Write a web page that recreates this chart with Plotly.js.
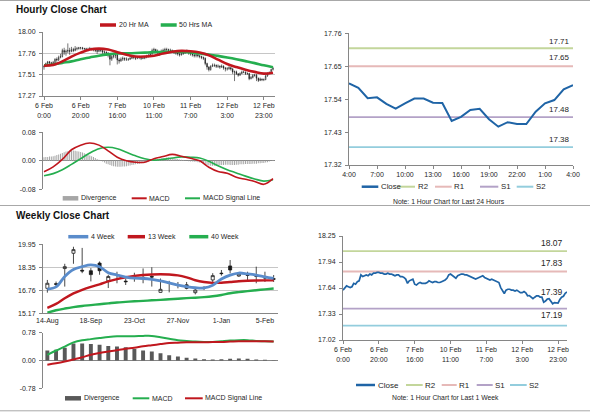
<!DOCTYPE html>
<html><head><meta charset="utf-8">
<script src="https://cdn.plot.ly/plotly-3.0.1.min.js"></script>
<style>html,body{margin:0;padding:0;background:#fff;}#chart{width:600px;height:413px;}</style>
</head><body><div id="chart"></div>
<script>
// ---------------- DATA ----------------
// Hourly (6 Feb 0:00 .. 13 Feb 4:00, 126 trading hours)
const hourTickLabels = ['6 Feb<br>0:00','6 Feb<br>20:00','7 Feb<br>16:00','10 Feb<br>11:00','11 Feb<br>7:00','12 Feb<br>3:00','12 Feb<br>23:00'];
const hourFirstOpen = 17.60;
const hourClose = [17.61,17.64,17.66,17.65,17.64,17.65,17.69,17.68,17.71,17.72,
17.79,17.77,17.78,17.79,17.78,17.80,17.79,17.81,17.81,17.82,
17.82,17.81,17.81,17.80,17.80,17.81,17.80,17.80,17.79,17.78,
17.79,17.79,17.77,17.77,17.76,17.74,17.69,17.72,17.73,17.74,
17.68,17.67,17.69,17.70,17.69,17.69,17.69,17.70,17.72,17.71,
17.70,17.71,17.71,17.70,17.70,17.71,17.72,17.73,17.75,17.79,
17.80,17.78,17.77,17.75,17.78,17.79,17.80,17.80,17.79,17.79,
17.78,17.77,17.76,17.75,17.74,17.75,17.76,17.77,17.78,17.76,
17.75,17.74,17.73,17.74,17.73,17.72,17.71,17.70,17.64,17.60,
17.57,17.61,17.62,17.62,17.61,17.61,17.60,17.61,17.59,17.58,
17.58,17.593,17.578,17.543,17.546,17.524,17.508,17.526,17.542,17.542,
17.528,17.527,17.467,17.481,17.504,17.508,17.473,17.448,17.463,17.457,
17.457,17.498,17.526,17.537,17.573,17.587];
const hourHigh = [17.62,17.65,17.67,17.67,17.66,17.67,17.70,17.71,17.73,17.75,
17.81,17.82,17.80,17.87,17.82,17.83,17.82,17.84,17.83,17.83,
17.83,17.83,17.82,17.82,17.82,17.83,17.82,17.81,17.81,17.80,
17.81,17.80,17.80,17.79,17.78,17.77,17.75,17.74,17.75,17.76,
17.75,17.70,17.71,17.72,17.71,17.71,17.70,17.72,17.73,17.73,
17.72,17.72,17.73,17.72,17.72,17.72,17.74,17.75,17.77,17.81,
17.82,17.81,17.80,17.78,17.80,17.81,17.82,17.82,17.81,17.81,
17.80,17.79,17.78,17.77,17.76,17.77,17.78,17.79,17.80,17.79,
17.77,17.76,17.75,17.75,17.75,17.74,17.73,17.72,17.71,17.65,
17.61,17.62,17.64,17.64,17.63,17.63,17.62,17.63,17.62,17.60,
17.60,17.61,17.60,17.59,17.56,17.56,17.53,17.54,17.56,17.56,
17.55,17.54,17.53,17.50,17.52,17.52,17.52,17.48,17.48,17.47,
17.47,17.51,17.54,17.55,17.58,17.60];
const hourLow = [17.57,17.60,17.62,17.63,17.62,17.63,17.64,17.66,17.67,17.70,
17.71,17.74,17.73,17.76,17.74,17.77,17.77,17.78,17.79,17.80,
17.80,17.80,17.79,17.79,17.78,17.79,17.79,17.78,17.77,17.75,
17.77,17.77,17.75,17.75,17.73,17.71,17.62,17.67,17.70,17.70,
17.63,17.64,17.66,17.67,17.67,17.67,17.67,17.68,17.69,17.69,
17.68,17.69,17.69,17.68,17.69,17.69,17.70,17.71,17.72,17.74,
17.78,17.77,17.75,17.73,17.74,17.77,17.78,17.78,17.77,17.77,
17.76,17.75,17.74,17.73,17.72,17.73,17.74,17.75,17.76,17.74,
17.73,17.72,17.71,17.71,17.71,17.70,17.69,17.68,17.62,17.57,
17.55,17.56,17.60,17.60,17.59,17.59,17.58,17.59,17.57,17.55,
17.56,17.57,17.56,17.52,17.44,17.51,17.49,17.50,17.52,17.53,
17.51,17.51,17.45,17.46,17.47,17.49,17.44,17.43,17.44,17.44,
17.44,17.45,17.49,17.52,17.53,17.56];
// moving averages and MACD read every 5 hours
const hourStep = 5;
const ma20 = [17.615,17.625,17.665,17.72,17.765,17.80,17.81,17.80,17.77,17.74,17.72,17.72,17.73,17.755,17.775,17.785,17.78,17.765,17.735,17.685,17.635,17.60,17.57,17.545,17.525,17.535];
const ma50 = [17.62,17.63,17.648,17.665,17.69,17.71,17.73,17.745,17.755,17.757,17.76,17.765,17.77,17.772,17.775,17.772,17.767,17.755,17.742,17.728,17.71,17.69,17.668,17.645,17.62,17.598];
const hourMacd = [-0.031,-0.017,0.004,0.031,0.044,0.050,0.044,0.028,0.010,0.000,-0.004,-0.004,0.006,0.012,0.018,0.013,0.007,0.000,-0.018,-0.030,-0.035,-0.046,-0.052,-0.058,-0.066,-0.050];
const hourSignal = [-0.042,-0.036,-0.025,-0.010,0.006,0.022,0.034,0.038,0.034,0.024,0.014,0.006,0.002,0.004,0.008,0.011,0.010,0.008,-0.001,-0.014,-0.025,-0.034,-0.043,-0.051,-0.057,-0.053];
const hourDivergence = [0.010,0.011,0.011,0.012,0.012,0.013,0.014,0.016,0.018,0.020,
0.022,0.024,0.026,0.027,0.028,0.029,0.029,0.028,0.027,0.026,
0.025,0.023,0.021,0.019,0.017,0.015,0.013,0.011,0.008,0.005,
0.003,0.001,-0.002,-0.005,-0.008,-0.010,-0.012,-0.014,-0.015,-0.016,
-0.017,-0.017,-0.017,-0.016,-0.016,-0.015,-0.014,-0.013,-0.012,-0.011,
-0.010,-0.009,-0.008,-0.007,-0.006,-0.005,-0.004,-0.002,0.000,0.002,
0.003,0.004,0.005,0.006,0.007,0.008,0.008,0.009,0.009,0.008,
0.008,0.007,0.006,0.005,0.004,0.003,0.002,0.001,0.000,-0.001,
-0.002,-0.002,-0.003,-0.003,-0.004,-0.005,-0.006,-0.008,-0.010,-0.012,
-0.013,-0.014,-0.014,-0.014,-0.013,-0.013,-0.012,-0.012,-0.012,-0.011,
-0.011,-0.011,-0.012,-0.012,-0.012,-0.011,-0.011,-0.010,-0.010,-0.010,
-0.009,-0.009,-0.009,-0.009,-0.008,-0.008,-0.008,-0.007,-0.007,-0.006,
-0.006,-0.005,-0.004,-0.002,0.000,0.002];
// last 24 hours
const dayTickLabels = ['4:00','7:00','10:00','13:00','16:00','19:00','22:00','1:00','4:00'];
const pivotNames = ['R2','R1','S1','S2'];
const dayPivots = [17.71,17.65,17.48,17.38];
const weekPivots = [18.07,17.83,17.39,17.19];
// Weekly (14-Aug .. 12-Feb, 27 weeks)
const weekTickLabels = ['14-Aug','18-Sep','23-Oct','27-Nov','1-Jan','5-Feb'];
const weekOpen  = [16.90,17.22,18.27,19.33,18.15,18.12,18.65,17.42,17.84,17.40,17.72,17.66,17.72,16.62,17.30,17.14,17.14,16.60,16.95,17.48,17.95,18.45,17.75,17.84,17.78,17.66,17.57];
const weekHigh  = [17.48,17.37,18.60,19.78,19.70,18.30,18.76,17.84,18.05,17.56,17.98,18.28,18.36,17.58,17.42,17.34,17.34,16.90,17.05,17.95,18.17,18.86,18.00,18.05,18.40,18.05,17.82];
const weekLow   = [16.60,17.00,17.02,18.60,17.95,17.38,17.84,16.92,17.25,17.13,17.36,17.25,17.02,16.60,16.62,16.90,16.83,16.48,16.78,17.28,17.78,17.94,17.70,17.48,17.25,17.34,17.34];
const weekClose = [17.25,17.18,18.40,19.58,18.10,17.85,18.12,17.72,17.80,17.36,17.68,17.62,17.68,16.83,17.26,17.10,16.90,16.78,16.92,17.78,17.92,18.17,17.89,17.80,17.74,17.62,17.53];
const ma4w  = [16.85,17.00,17.72,18.20,18.40,18.52,18.40,17.98,17.82,17.68,17.60,17.58,17.52,17.42,17.28,17.12,17.01,16.94,16.93,17.12,17.55,17.82,17.96,17.90,17.82,17.70,17.59];
const ma13w = [15.55,15.82,16.21,16.55,16.80,17.00,17.17,17.38,17.54,17.67,17.76,17.82,17.86,17.88,17.86,17.80,17.66,17.46,17.34,17.28,17.29,17.34,17.39,17.42,17.44,17.45,17.45];
const ma40w = [15.22,15.38,15.50,15.60,15.68,15.74,15.80,15.86,15.92,15.96,16.00,16.03,16.07,16.10,16.14,16.18,16.22,16.25,16.29,16.35,16.44,16.56,16.64,16.71,16.77,16.83,16.89];
const weekMacd   = [0.16,0.28,0.39,0.51,0.57,0.60,0.63,0.66,0.68,0.68,0.68,0.69,0.69,0.65,0.61,0.57,0.55,0.53,0.52,0.52,0.54,0.56,0.57,0.57,0.55,0.54,0.53];
const weekSignal = [-0.12,-0.08,-0.03,0.03,0.09,0.16,0.21,0.25,0.29,0.33,0.36,0.40,0.43,0.46,0.49,0.50,0.51,0.51,0.51,0.52,0.52,0.53,0.54,0.54,0.54,0.54,0.53];
const weekDivergence = [0.28,0.30,0.36,0.48,0.48,0.46,0.44,0.41,0.39,0.37,0.32,0.28,0.25,0.20,0.15,0.11,0.08,0.056,0.037,0.028,0.037,0.046,0.056,0.046,0.028,0.019,-0.01];

// ---------------- STYLE ----------------
const W = 600, H = 413;
const px = x => x / W, py = y => 1 - y / H;
const C = {close:'#1f64a6', piv:['#c3d69b','#e6b9b8','#b3a2c7','#93cddd'], red:'#c0171e', green:'#25ae4f',
  blue:'#5a8ccb', divLight:'#a6a6a6', divDark:'#595959', axis:'#868686', grid:'#c6c6c6', text:'#262626'};
const FONT = 'Liberation Sans, Arial, sans-serif';

// ---------------- TRACES ----------------
const hx = hourClose.map((_, i) => i);
const hourOpen = [hourFirstOpen].concat(hourClose.slice(0, -1));
const sx = ma20.map((_, j) => j * hourStep);
const dayClose = hourClose.slice(-25);
const dx = dayClose.map((_, i) => i);
const wx = weekClose.map((_, k) => k);

const candleStyle = w => ({
  increasing:{line:{color:'#1a1a1a', width:w}, fillcolor:'#ffffff'},
  decreasing:{line:{color:'#1a1a1a', width:w}, fillcolor:'#1a1a1a'},
  whiskerwidth:0, hoverinfo:'skip'});
const line = (x, y, color, width, xa, ya, shape) => ({type:'scatter', mode:'lines', x, y, xaxis:xa, yaxis:ya,
  line:{color, width, shape:shape || 'linear', smoothing:1}, hoverinfo:'skip'});

const traces = [];
traces.push(Object.assign({type:'candlestick', x:hx, open:hourOpen, high:hourHigh, low:hourLow, close:hourClose, xaxis:'x', yaxis:'y'}, candleStyle(0.6)));
traces.push(line(sx, ma50, C.green, 2.6, 'x', 'y', 'spline'));
traces.push(line(sx, ma20, C.red, 2.6, 'x', 'y', 'spline'));
traces.push({type:'bar', x:hx, y:hourDivergence, width:0.55, marker:{color:C.divLight}, xaxis:'x2', yaxis:'y2', hoverinfo:'skip'});
traces.push(line(sx, hourSignal, C.green, 1.6, 'x2', 'y2', 'spline'));
traces.push(line(sx, hourMacd, C.red, 1.6, 'x2', 'y2', 'spline'));
dayPivots.forEach((v, j) => traces.push(line([0, dx.length - 1], [v, v], C.piv[j], 1.8, 'x3', 'y3')));
traces.push(line(dx, dayClose, C.close, 2, 'x3', 'y3'));
traces.push(Object.assign({type:'candlestick', x:wx, open:weekOpen, high:weekHigh, low:weekLow, close:weekClose, xaxis:'x4', yaxis:'y4'}, candleStyle(0.8)));
traces.push(line(wx, ma40w, C.green, 2.4, 'x4', 'y4', 'spline'));
traces.push(line(wx, ma13w, C.red, 2.4, 'x4', 'y4', 'spline'));
traces.push(line(wx, ma4w, C.blue, 2.8, 'x4', 'y4', 'spline'));
traces.push({type:'bar', x:wx, y:weekDivergence, width:0.45, marker:{color:C.divDark}, xaxis:'x5', yaxis:'y5', hoverinfo:'skip'});
traces.push(line(wx, weekMacd, C.green, 2, 'x5', 'y5', 'spline'));
traces.push(line(wx, weekSignal, C.red, 2, 'x5', 'y5', 'spline'));
weekPivots.forEach((v, j) => traces.push(line([0, hx.length - 1], [v, v], C.piv[j], 1.8, 'x6', 'y6')));
traces.push(line(hx, hourClose, C.close, 1.7, 'x6', 'y6'));

// ---------------- LAYOUT ----------------
const tf = {family:FONT, size:7, color:C.text};
const baseX = (d, ya) => ({domain:[px(d[0]), px(d[1])], anchor:ya, showgrid:false, zeroline:false, showline:true, linecolor:C.axis,
  linewidth:1, ticks:'outside', ticklen:3, tickcolor:C.axis, tickfont:tf, rangeslider:{visible:false}, fixedrange:true});
const baseY = (d, xa) => ({domain:[py(d[1]), py(d[0])], anchor:xa, showgrid:true, gridcolor:C.grid, gridwidth:1, zeroline:false,
  showline:true, linecolor:C.axis, linewidth:1, ticks:'outside', ticklen:3, tickcolor:C.axis, tickfont:tf, fixedrange:true, ticklabelstandoff:2});

const hourTickVals = hourTickLabels.map((_, j) => j * 20);
const layout = {
  width:W, height:H, margin:{l:0, r:0, t:0, b:0}, paper_bgcolor:'#fff', plot_bgcolor:'#fff',
  showlegend:false, hovermode:false, boxgap:0.5, font:{family:FONT, color:C.text},
  xaxis:Object.assign(baseX([43, 275], 'y'), {range:[-0.55, 126.1], tickvals:hourTickVals, ticktext:hourTickLabels}),
  yaxis:Object.assign(baseY([32, 96], 'x'), {range:[17.27, 18.00], tickvals:[17.27, 17.5133, 17.7567, 18.00], ticktext:['17.27','17.51','17.76','18.00']}),
  xaxis2:Object.assign(baseX([43, 275], 'y2'), {range:[-0.55, 126.1], showline:false, ticks:'', showticklabels:false}),
  yaxis2:Object.assign(baseY([132.3, 189.3], 'x2'), {range:[-0.08, 0.08], tickvals:[-0.08, 0, 0.08], ticktext:['-0.08','0.00','0.08'],
    zeroline:true, zerolinecolor:C.axis, zerolinewidth:1}),
  xaxis3:Object.assign(baseX([349, 573], 'y3'), {range:[0, 24], tickvals:dayTickLabels.map((_, j) => j * 3), ticktext:dayTickLabels}),
  yaxis3:Object.assign(baseY([33.3, 165], 'x3'), {range:[17.32, 17.76], tick0:17.32, dtick:0.11, tickformat:'.2f', showgrid:false}),
  xaxis4:Object.assign(baseX([43, 278], 'y4'), {range:[-0.5, 26.5], tickvals:weekTickLabels.map((_, j) => j * 5), ticktext:weekTickLabels, ticks:''}),
  yaxis4:Object.assign(baseY([244.3, 313.3], 'x4'), {range:[15.17, 19.95], tickvals:[15.17, 16.763, 18.357, 19.95], ticktext:['15.17','16.76','18.35','19.95']}),
  xaxis5:Object.assign(baseX([43, 278], 'y5'), {range:[-0.5, 26.5], showline:false, ticks:'', showticklabels:false}),
  yaxis5:Object.assign(baseY([332.7, 388.3], 'x5'), {range:[-0.78, 0.78], tickvals:[-0.78, 0, 0.78], ticktext:['-0.78','0.00','0.78'],
    zeroline:true, zerolinecolor:C.axis, zerolinewidth:1}),
  xaxis6:Object.assign(baseX([343, 567], 'y6'), {range:[0, 125], tickvals:hourTickVals, ticktext:hourTickLabels}),
  yaxis6:Object.assign(baseY([236, 340], 'x6'), {range:[17.02, 18.25], tickvals:[17.02, 17.3275, 17.635, 17.9425, 18.25],
    ticktext:['17.02','17.33','17.64','17.94','18.25'], showgrid:false}),
  shapes:[], annotations:[]
};

// separators
[0.5, 205.5, 410.8].forEach(y => layout.shapes.push({type:'line', xref:'paper', yref:'paper', x0:0, x1:px(590), y0:py(y), y1:py(y),
  line:{color:'#a8a8a8', width:1}}));

// titles
[['Hourly Close Chart', 9], ['Weekly Close Chart', 215.5]].forEach(([t, y]) => layout.annotations.push({xref:'paper', yref:'paper',
  x:px(14), y:py(y), xanchor:'left', yanchor:'middle', text:t, showarrow:false, font:{family:FONT, size:10, weight:'bold', color:'#111'}}));

// custom legends (sample x-range, y, style) -> text
const legendItems = [
  ['line', 100, 116, 25, C.red, 3.5, '20 Hr MA', 7],
  ['line', 160.7, 176.7, 25, C.green, 3.5, '50 Hrs MA', 7],
  ['box', 62.7, 78.3, 198.3, C.divLight, 4.5, 'Divergence', 7],
  ['line', 131.7, 146.7, 198.3, C.red, 2, 'MACD', 7],
  ['line', 185, 200, 198.3, C.green, 2, 'MACD Signal Line', 7],
  ['line', 361.7, 378.3, 186.7, C.close, 2.5, 'Close', 7.8],
  ['line', 398.3, 415, 186.7, C.piv[0], 2, 'R2', 7.8],
  ['line', 435, 451.7, 186.7, C.piv[1], 2, 'R1', 7.8],
  ['line', 480, 498.3, 186.7, C.piv[2], 2, 'S1', 7.8],
  ['line', 516.7, 533.3, 186.7, C.piv[3], 2, 'S2', 7.8],
  ['line', 68.3, 88.3, 236.7, C.blue, 3.5, '4 Week', 7],
  ['line', 127.7, 145, 236.7, C.red, 3.5, '13 Week', 7],
  ['line', 189.3, 208.3, 236.7, C.green, 3.5, '40 Week', 7],
  ['box', 65, 81, 398.3, C.divDark, 4.5, 'Divergence', 7],
  ['line', 132.7, 149.3, 398.3, C.green, 2, 'MACD', 7],
  ['line', 185, 202.7, 398.3, C.red, 2, 'MACD Signal Line', 7],
  ['line', 356, 375, 385, C.close, 2.5, 'Close', 8],
  ['line', 406, 422.7, 385, C.piv[0], 2, 'R2', 8],
  ['line', 441.7, 456.7, 385, C.piv[1], 2, 'R1', 8],
  ['line', 476.7, 492.7, 385, C.piv[2], 2, 'S1', 8],
  ['line', 510, 526.7, 385, C.piv[3], 2, 'S2', 8]
];
legendItems.forEach(([kind, x0, x1, y, color, w, text, fs]) => {
  if (kind === 'line') layout.shapes.push({type:'line', xref:'paper', yref:'paper', x0:px(x0), x1:px(x1), y0:py(y), y1:py(y), line:{color, width:w}});
  else layout.shapes.push({type:'rect', xref:'paper', yref:'paper', x0:px(x0), x1:px(x1), y0:py(y + w / 2), y1:py(y - w / 2), line:{width:0}, fillcolor:color});
  layout.annotations.push({xref:'paper', yref:'paper', x:px(x1 + 0.5), y:py(y), xanchor:'left', yanchor:'middle', text, showarrow:false,
    font:{family:FONT, size:fs, color:C.text}});
});

// notes
[['Note: 1 Hour Chart for Last 24 Hours', 449, 201.5], ['Note: 1 Hour Chart for Last 1 Week', 445, 397.7]].forEach(([t, x, y]) =>
  layout.annotations.push({xref:'paper', yref:'paper', x:px(x), y:py(y), xanchor:'center', yanchor:'middle', text:t, showarrow:false,
    font:{family:FONT, size:6.8, color:C.text}}));

// pivot value labels
const dayLabelShift = [6.6, 8.7, 7.4, 8];
const weekLabelShift = [8.7, 8.6, 17, 11];
dayPivots.forEach((v, j) => layout.annotations.push({xref:'x3', yref:'y3', x:dx.length - 1, y:v, xanchor:'right', yanchor:'middle',
  yshift:dayLabelShift[j], xshift:-1, text:v.toFixed(2), showarrow:false, font:{family:FONT, size:8, color:C.text}}));
weekPivots.forEach((v, j) => layout.annotations.push({xref:'x6', yref:'y6', x:hx.length - 1, y:v, xanchor:'right', yanchor:'middle',
  yshift:weekLabelShift[j], xshift:-2, text:v.toFixed(2), showarrow:false, font:{family:FONT, size:8.5, color:C.text}}));

Plotly.newPlot('chart', traces, layout, {staticPlot:true, displayModeBar:false});
</script></body></html>
